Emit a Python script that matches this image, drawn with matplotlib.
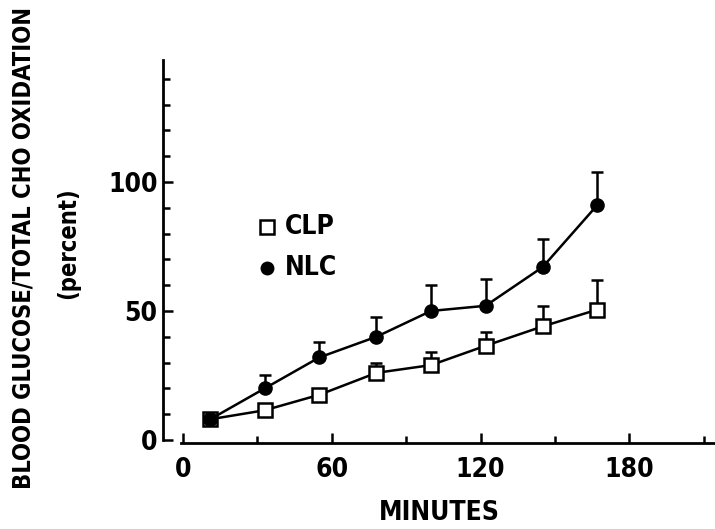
import matplotlib
matplotlib.use('Agg')
import matplotlib.pyplot as plt
from matplotlib.ticker import MultipleLocator

minutes = [11, 33, 55, 78, 100, 122, 145, 167]
nlc = [8, 20, 32, 40, 50, 52, 67, 91]
nlc_err = [0, 5, 6, 7.5, 10, 10.5, 11, 13]
clp = [8, 11.5, 17.5, 26, 29, 36.5, 44, 50.5]
clp_err = [0, 0, 0, 4, 5, 5.5, 8, 11.5]

plt.rcParams['font.family'] = ['DejaVu Sans']
plt.rcParams['font.stretch'] = 'condensed'
plt.rcParams['font.weight'] = 'bold'
plt.rcParams['axes.labelweight'] = 'bold'

fig = plt.figure(figsize=(7.15, 5.29), dpi=100)
ax = fig.add_axes([163 / 715, (529 - 443) / 529, 552 / 715, 383 / 529])

ax.errorbar(minutes, nlc, yerr=[[0] * len(nlc), nlc_err], color='black',
            marker='o', markersize=9.5, linewidth=1.8, elinewidth=1.8,
            capsize=4.5, capthick=1.8, zorder=3)
ax.errorbar(minutes, clp, yerr=[[0] * len(clp), clp_err], color='black',
            marker='s', markersize=10, markerfacecolor='white',
            markeredgewidth=1.8, linewidth=1.8, elinewidth=1.8,
            capsize=4.5, capthick=1.8, zorder=2)
# the first reading is shared, keep the filled dot on top
ax.plot(minutes[0], nlc[0], 'o', color='black', markersize=9.5, zorder=4)

ax.set_xlim(-8.06, 214.5)
ax.set_ylim(-1.2, 147.3)

for side in ['top', 'right']:
    ax.spines[side].set_visible(False)
ax.spines['left'].set_bounds(0, 147.3)
ax.spines['bottom'].set_bounds(-1, 214.5)
ax.spines['left'].set_linewidth(2)
ax.spines['bottom'].set_linewidth(2)

ax.set_xticks([0, 60, 120, 180])
ax.xaxis.set_minor_locator(MultipleLocator(30))
ax.set_yticks([0, 50, 100])
ax.yaxis.set_minor_locator(MultipleLocator(10))
ax.tick_params(which='both', direction='in', width=1.8)
ax.tick_params(which='major', length=7, labelsize=19, pad=10)
ax.tick_params(which='minor', length=5)
ax.tick_params(axis='y', pad=4)

ax.set_xlabel('MINUTES', fontsize=19, labelpad=12)
fig.text(24 / 715, 1 - 248 / 529, 'BLOOD GLUCOSE/TOTAL CHO OXIDATION',
         rotation=90, fontsize=17, ha='center', va='center')
fig.text(68 / 715, 1 - 243 / 529, '(percent)',
         rotation=90, fontsize=17, ha='center', va='center')

# legend drawn by hand
ax.plot(34, 82.5, 's', color='black', markerfacecolor='white',
        markersize=10, markeredgewidth=1.8)
ax.text(41, 82.5, 'CLP', fontsize=19, va='center')
ax.plot(34, 66.7, 'o', color='black', markersize=9)
ax.text(41, 66.7, 'NLC', fontsize=19, va='center')

fig.savefig('out.png', dpi=100)
